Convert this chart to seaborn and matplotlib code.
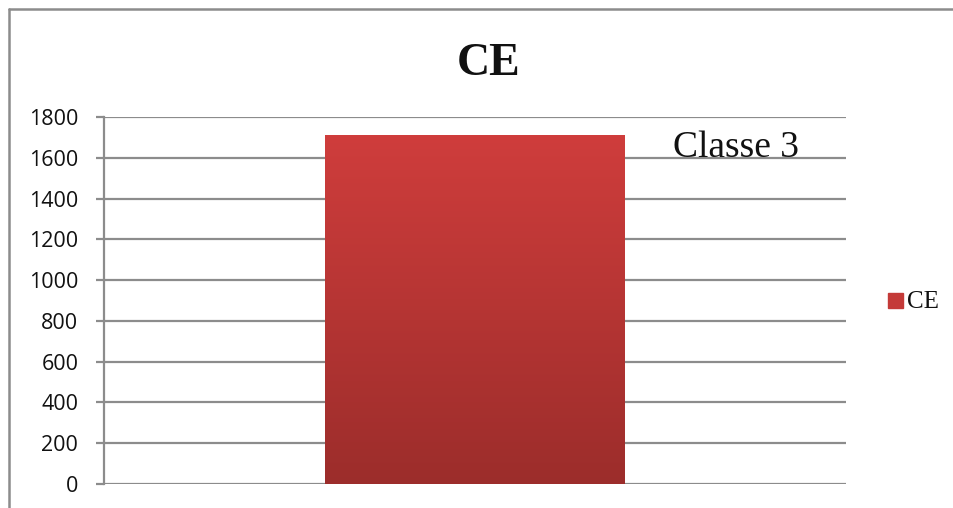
import numpy as np
import pandas as pd
import matplotlib
matplotlib.use("Agg")
import matplotlib.pyplot as plt
import seaborn as sns
from matplotlib.colors import LinearSegmentedColormap

categories = ["Classe 3"]
values = [1710]
series_name = "CE"
yticks = [0, 200, 400, 600, 800, 1000, 1200, 1400, 1600, 1800]

df = pd.DataFrame({"classe": categories, "value": values})

sns.set_theme(style="white")
plt.rcParams["font.family"] = ["Liberation Serif", "DejaVu Serif"]

fig = plt.figure(figsize=(9.54, 5.08), dpi=100)
ax = fig.add_axes([104/954, 1 - 484/508, (846-104)/954, (484-117)/508])

sns.barplot(data=df, x="classe", y="value", ax=ax, color="#C43A38",
            width=0.403, saturation=1, label=series_name, zorder=3)

ax.set_xlim(-0.5, 0.5)
ax.set_ylim(0, 1800)
ax.set_yticks(yticks)
ax.set_yticklabels([str(v) for v in yticks], family=["Open Sans", "DejaVu Sans"],
                   fontsize=15.5, color="#111111")
ax.set_xticks([])
ax.set_xlabel("")
ax.set_ylabel("")
ax.grid(axis="y", color="#8c8c8c", linewidth=1.6, zorder=0)
ax.set_axisbelow(True)
for s in ["top", "right", "bottom"]:
    ax.spines[s].set_visible(False)
ax.spines["left"].set_color("#8c8c8c")
ax.spines["left"].set_linewidth(1.6)
ax.tick_params(axis="y", length=6, width=1.6, color="#8c8c8c", pad=12.5, left=True)

# gradient fill inside the bar
cmap = LinearSegmentedColormap.from_list("g", ["#9C2D2B", "#CF3D3C"])
for patch in ax.patches:
    x0, y0 = patch.get_x(), patch.get_y()
    w, h = patch.get_width(), patch.get_height()
    grad = np.linspace(0, 1, 256).reshape(-1, 1)
    im = ax.imshow(grad, extent=[x0, x0 + w, y0, y0 + h], origin="lower",
                   aspect="auto", cmap=cmap, zorder=4)
    im.set_clip_path(patch)
    patch.set_edgecolor("none")
ax.set_xlim(-0.5, 0.5)
ax.set_ylim(0, 1800)

leg = ax.get_legend()
if leg is not None:
    leg.remove()

# category label
ax.text(0.352, 1604, categories[0], fontsize=27, color="#111111",
        ha="center", va="baseline", zorder=6)

# title
fig.text(489/954, 1 - 75/508, series_name, fontsize=33, fontweight="bold",
         ha="center", va="baseline", color="#111111")

# legend
fig.patches.append(plt.Rectangle((888/954, 1 - 308/508), 15/954, 15/508,
                                 transform=fig.transFigure, color="#C43A38",
                                 figure=fig))
fig.text(907/954, 1 - 308/508, series_name, fontsize=18, ha="left",
         va="baseline", color="#111111")

# figure frame
fig.add_artist(plt.Line2D([9/954, 9/954], [0, 1 - 9/508], transform=fig.transFigure,
                          color="#8c8c8c", linewidth=1.8))
fig.add_artist(plt.Line2D([9/954, 1], [1 - 9/508, 1 - 9/508], transform=fig.transFigure,
                          color="#8c8c8c", linewidth=1.8))

fig.savefig("out.png", dpi=100)
